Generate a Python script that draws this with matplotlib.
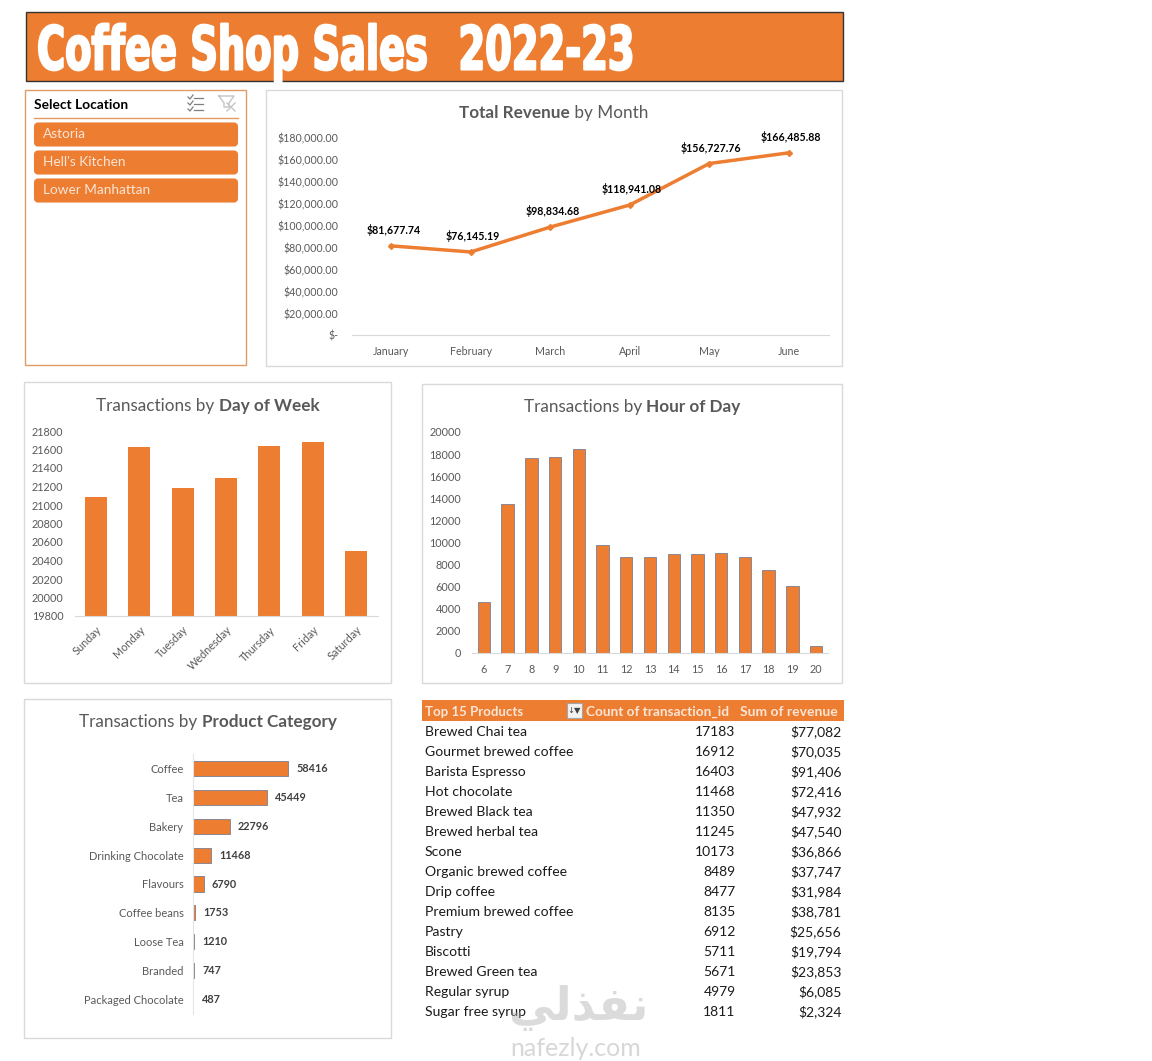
import matplotlib
matplotlib.use("Agg")
import matplotlib.pyplot as plt
from matplotlib.patches import Rectangle, FancyBboxPatch
from matplotlib.transforms import Affine2D
import matplotlib.patheffects as pe

plt.rcParams['font.family'] = ['Lato', 'DejaVu Sans']

months = ["January", "February", "March", "April", "May", "June"]
revenue = [81677.74, 76145.19, 98834.68, 118941.08, 156727.76, 166485.88]
days = ["Sunday", "Monday", "Tuesday", "Wednesday", "Thursday", "Friday", "Saturday"]
day_tx = [21086, 21627, 21184, 21292, 21638, 21681, 20503]
hours = [6, 7, 8, 9, 10, 11, 12, 13, 14, 15, 16, 17, 18, 19, 20]
hour_tx = [4600, 13430, 17600, 17700, 18500, 9750, 8700, 8650, 8950, 8950, 9000, 8650, 7500, 6050, 600]
categories = ["Coffee", "Tea", "Bakery", "Drinking Chocolate", "Flavours",
              "Coffee beans", "Loose Tea", "Branded", "Packaged Chocolate"]
category_tx = [58416, 45449, 22796, 11468, 6790, 1753, 1210, 747, 487]
products = ["Brewed Chai tea", "Gourmet brewed coffee", "Barista Espresso", "Hot chocolate",
            "Brewed Black tea", "Brewed herbal tea", "Scone", "Organic brewed coffee",
            "Drip coffee", "Premium brewed coffee", "Pastry", "Biscotti",
            "Brewed Green tea", "Regular syrup", "Sugar free syrup"]
product_tx = [17183, 16912, 16403, 11468, 11350, 11245, 10173, 8489, 8477, 8135, 6912, 5711, 5671, 4979, 1811]
product_rev = ["$77,082", "$70,035", "$91,406", "$72,416", "$47,932", "$47,540", "$36,866",
               "$37,747", "$31,984", "$38,781", "$25,656", "$19,794", "$23,853", "$6,085", "$2,324"]
locations = ["Astoria", "Hell's Kitchen", "Lower Manhattan"]

ORANGE = "#ED7D31"
GREY = "#595959"
W, H = 1152, 1061
fig = plt.figure(figsize=(W / 100, H / 100), dpi=100, facecolor="white")
bg = fig.add_axes([0, 0, 1, 1])
bg.set_xlim(0, W); bg.set_ylim(H, 0); bg.axis("off")


class HSqueeze(pe.AbstractPathEffect):
    """Narrow a text's glyphs horizontally about x0 (display px) and thicken them."""

    def __init__(self, x0, factor, lw):
        super().__init__()
        self.x0, self.factor, self.lw = x0, factor, lw

    def draw_path(self, renderer, gc, tpath, affine, rgbFace):
        aff = affine + Affine2D().translate(-self.x0, 0).scale(self.factor, 1).translate(self.x0, 0)
        g = renderer.new_gc()
        g.copy_properties(gc)
        g.set_linewidth(self.lw)
        g.set_foreground(rgbFace)
        renderer.draw_path(g, tpath, aff, rgbFace)
        g.restore()


def px_axes(l, t, r, b, size=7.8):
    ax = fig.add_axes([l / W, 1 - b / H, (r - l) / W, (b - t) / H])
    ax.patch.set_alpha(0)
    for s in ("top", "right", "left"):
        ax.spines[s].set_visible(False)
    ax.spines["bottom"].set_color("#d9d9d9")
    ax.spines["bottom"].set_linewidth(0.8)
    ax.tick_params(length=0, labelcolor=GREY, labelsize=size)
    return ax


def panel(l, t, r, b, ec="#d9d9d9"):
    bg.add_patch(Rectangle((l - 1, t - 1), r - l, b - t, fc="white", ec=ec, lw=1))


def mixed_title(cx, y, parts, size=12.3):
    r = fig.canvas.get_renderer()
    items = []
    for s, w in parts:
        t = bg.text(0, y, s, fontsize=size, fontweight=w, color=GREY, ha="left", va="center")
        items.append(t)
    widths = [t.get_window_extent(r).width for t in items]
    x = cx - sum(widths) / 2
    for t, wd in zip(items, widths):
        t.set_x(x)
        x += wd


# Banner
banner = Rectangle((25.5, 11.5), 817.5, 69, fc=ORANGE, ec="#333333", lw=1)
bg.add_patch(banner)
banner_text = bg.text(37, 53, "Coffee Shop Sales  \u200a2022-23", fontsize=43.5, color="white", fontweight="bold",
                      va="center", ha="left", family=["DejaVu Sans"],
                      path_effects=[HSqueeze(37, 0.635, 1.5)])
banner_text.set_clip_path(banner)

# Slicer
panel(25.5, 90.5, 247, 366, ec="#E39A63")
bg.text(34, 105, "Select Location", fontsize=9.9, fontweight="bold", color="black", va="center")
bg.plot([34, 238], [117.5, 117.5], color="#E39A63", lw=1)
for i, loc in enumerate(locations):
    yt = 122.5 + 28 * i
    bg.add_patch(FancyBboxPatch((35, yt + 1), 202, 22, boxstyle="round,pad=0,rounding_size=3",
                                fc=ORANGE, ec=ORANGE, lw=1.5))
    bg.text(43, yt + 12, loc, fontsize=9.8, color="#FBE5D6", va="center")
# slicer icons
for yy in (98, 104, 110):
    bg.plot([194, 203], [yy, yy], color="#7f7f7f", lw=0.9)
    bg.plot([188, 190, 193], [yy - 1, yy + 1, yy - 3], color="#7f7f7f", lw=0.9)
bg.plot([219, 234, 229, 229, 224, 224, 219], [96, 96, 103, 107, 107, 103, 96], color="#c4c4c4", lw=1)
bg.plot([227, 235], [103, 111], color="#c4c4c4", lw=1)
bg.plot([235, 227], [103, 111], color="#c4c4c4", lw=1)

# Revenue by month
panel(266.5, 90.5, 843, 367)
mixed_title(554, 113, [("Total Revenue", "bold"), (" by Month", "normal")])
ax = px_axes(351.5, 138, 828.5, 335.5, size=7.7)
ax.plot(range(len(months)), revenue, color=ORANGE, lw=2.5, marker="D", ms=3)
ax.set_xlim(-0.5, 5.5); ax.set_ylim(0, 180000)
ax.set_xticks(range(len(months)), months)
ax.set_yticks(range(0, 180001, 20000))
ax.set_yticklabels(["$-" if v == 0 else f"${v:,.2f}" for v in range(0, 180001, 20000)])
ax.tick_params(axis="y", pad=9.5)
ax.tick_params(axis="x", pad=7.5)
for i, v in enumerate(revenue):
    ax.annotate(f"${v:,.2f}", (i, v), xytext=(1.5, 11.5), textcoords="offset points",
                ha="center", va="center", fontsize=7.7, fontweight="bold", color="black")

# Day of week
panel(24.5, 382.5, 392, 684)
mixed_title(208, 406, [("Transactions by ", "normal"), ("Day of Week", "bold")])
ax = px_axes(74.5, 431, 377.5, 616)
ax.bar(days, day_tx, width=0.51, color=ORANGE)
ax.set_xlim(-0.5, 6.5); ax.set_ylim(19800, 21800)
ax.set_yticks(range(19800, 21801, 200))
ax.tick_params(axis="y", pad=8)
ax.tick_params(axis="x", pad=6)
plt.setp(ax.get_xticklabels(), rotation=45, ha="right", rotation_mode="anchor")

# Hour of day
panel(422.5, 384.5, 843, 684)
mixed_title(632, 407, [("Transactions by ", "normal"), ("Hour of Day", "bold")])
ax = px_axes(472, 432, 828, 652.5)
ax.bar(hours, hour_tx, width=0.52, color=ORANGE, edgecolor="#6E7892", linewidth=0.55)
ax.set_xlim(5.5, 20.5); ax.set_ylim(0, 20000)
ax.set_xticks(hours)
ax.set_yticks(range(0, 20001, 2000))
ax.tick_params(axis="y", pad=8)
ax.tick_params(axis="x", pad=8)

# Product category
panel(24.5, 699.5, 392, 1039)
mixed_title(208, 722, [("Transactions by ", "normal"), ("Product Category", "bold")])
ax = px_axes(192.5, 754, 380, 1014)
ypos = list(range(len(categories)))
ax.barh(ypos, category_tx, height=0.52, color=ORANGE, edgecolor="#6E7892", linewidth=0.55)
ax.set_ylim(len(categories) - 0.5, -0.5)
ax.set_xlim(0, 58416 * 187 / 95)
ax.set_xticks([])
ax.set_yticks(ypos, categories)
ax.spines["bottom"].set_visible(False)
ax.spines["left"].set_visible(True)
ax.spines["left"].set_color("#e4e4e4")
ax.tick_params(axis="y", pad=6.5, labelsize=8)
for y, v in zip(ypos, category_tx):
    ax.annotate(str(v), (v, y), xytext=(6, 0), textcoords="offset points",
                ha="left", va="center", fontsize=7.8, fontweight="bold", color="#404040")

# Table
bg.add_patch(Rectangle((422, 700), 422, 20.5, fc=ORANGE, ec="none"))
bg.text(425, 712, "Top 15 Products", fontsize=9.5, fontweight="bold", color="#FBE5D6", va="center")
bg.text(586, 712, "Count of transaction_id", fontsize=9.8, fontweight="bold", color="#FBE5D6", va="center")
bg.text(838, 712, "Sum of revenue", fontsize=10, fontweight="bold", color="#FBE5D6", va="center", ha="right")
bg.add_patch(Rectangle((567, 703), 15, 15, fc="#f2f2f2", ec="#a6a6a6", lw=0.8))
bg.text(574.5, 710.5, "↓▼", fontsize=6, color="#404040", ha="center", va="center",
        family=["DejaVu Sans"])
for i, (p, c, r) in enumerate(zip(products, product_tx, product_rev)):
    y = 731.5 + 20 * i
    bg.text(425, y, p, fontsize=10.1, color="#1a1a1a", va="center")
    bg.text(735.5, y, str(c), fontsize=10, color="#1a1a1a", va="center", ha="right")
    bg.text(841.5, y, r, fontsize=10, color="#1a1a1a", va="center", ha="right")

# Watermark
bg.text(578, 1008, "\ufef2\ufedf\ufeac\ufed4\ufee7", fontsize=33, fontweight="bold", color="#b0b0b0",
        alpha=0.45, ha="center", va="center", family=["DejaVu Sans"])
bg.text(576, 1048, "nafezly.com", fontsize=18, color="#b0b0b0", alpha=0.5, ha="center", va="center")

fig.savefig("out.png", dpi=100, facecolor="white")
